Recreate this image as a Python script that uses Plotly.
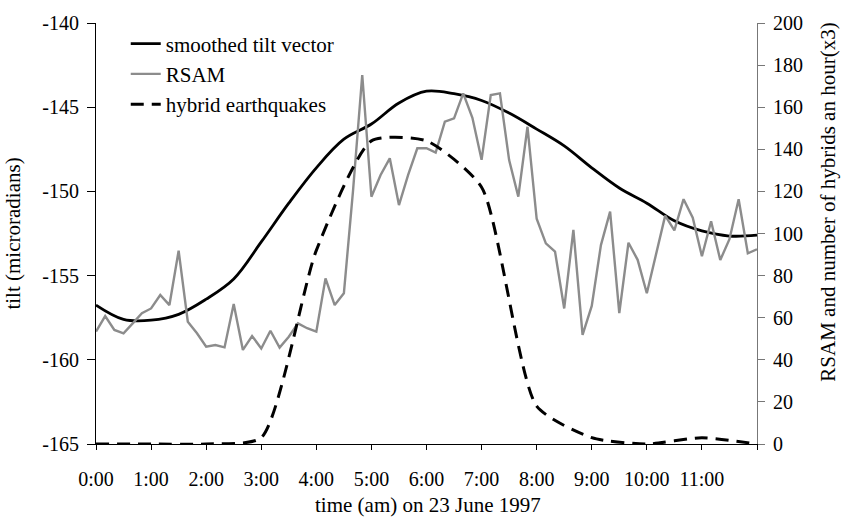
import plotly.graph_objects as go

# ---------------- data ----------------
tilt_hours = [0, 0.5, 1, 1.5, 2, 2.5, 3, 3.5, 4, 4.5, 5, 5.5, 6, 6.5, 7, 7.5, 8, 8.5,
              9, 9.5, 10, 10.5, 11, 11.5, 12]
tilt_values = [-156.75, -157.6, -157.65, -157.3, -156.4, -155.2, -153.0, -150.7, -148.6,
               -146.9, -146.0, -144.75, -144.05, -144.2, -144.6, -145.35, -146.3, -147.3,
               -148.6, -149.8, -150.7, -151.75, -152.35, -152.65, -152.6]

rsam_values = [53.4, 60.8, 54.2, 52.6, 57.3, 62.1, 64.4, 70.8, 66.0, 91.8,
               58.1, 52.6, 46.2, 47.0, 45.9, 66.5, 44.7, 51.3, 45.4, 53.8,
               45.8, 51.0, 57.3, 55.0, 53.4, 78.7, 66.0, 71.6, 120.5, 175.3,
               117.5, 127.8, 135.7, 113.5, 127.8, 140.5, 140.5, 138.4, 153.1, 154.7,
               166.6, 155.0, 135.0, 165.8, 166.6, 134.9, 117.5, 150.7, 107.0, 95.3,
               91.4, 64.4, 101.7, 51.8, 65.6, 94.5, 110.4, 62.2, 95.6, 87.5,
               71.6, 89.5, 108.5, 101.5, 116.3, 107.5, 89.2, 105.8, 87.4, 97.3,
               116.3, 90.6, 92.5]
rsam_step_minutes = 10
rsam_hours = [i * rsam_step_minutes / 60 for i in range(len(rsam_values))]

hybrid_hours = [0, 1, 2, 3, 4, 5, 6, 7, 8, 9, 10, 11, 12]
hybrid_values = [0, 0, 0, 3, 92, 144, 144, 122, 18, 3, 0, 3, 0]

tick_hours = [0, 1, 2, 3, 4, 5, 6, 7, 8, 9, 10, 11, 12]
tick_labels = ["0:00", "1:00", "2:00", "3:00", "4:00", "5:00", "6:00", "7:00",
               "8:00", "9:00", "10:00", "11:00", ""]
tilt_ticks = [-165, -160, -155, -150, -145, -140]
tilt_tick_labels = ["-165", "-160", "-155", "-150", "-145", "-140"]

FONT = "Liberation Serif"

fig = go.Figure()
fig.add_trace(go.Scatter(x=tilt_hours, y=tilt_values, name="smoothed tilt vector",
                         mode="lines", line=dict(color="black", width=2.8, shape="spline"),
                         legendgroup="a", yaxis="y"))
fig.add_trace(go.Scatter(x=rsam_hours, y=rsam_values, name="RSAM",
                         mode="lines", line=dict(color="#8c8c8c", width=2.4),
                         legendgroup="b", yaxis="y2"))
fig.add_trace(go.Scatter(x=hybrid_hours, y=hybrid_values, name="hybrid earthquakes",
                         mode="lines", line=dict(color="black", width=3, dash="13px,8px",
                                                 shape="spline", smoothing=0.6),
                         legendgroup="c", yaxis="y2"))

fig.update_layout(
    width=862, height=524, autosize=False,
    margin=dict(l=96, r=105, t=23, b=80),
    paper_bgcolor="white", plot_bgcolor="white",
    font=dict(family=FONT, size=20, color="black"),
    showlegend=True,
    legend=dict(x=0.045, y=0.999, xanchor="left", yanchor="top",
                bgcolor="rgba(0,0,0,0)", font=dict(family=FONT, size=21),
                tracegroupgap=0),
    xaxis=dict(range=[0, 12], tickvals=tick_hours, ticktext=tick_labels,
               ticks="outside", ticklen=5, tickcolor="black", showline=True,
               linecolor="black", linewidth=1, showgrid=False, zeroline=False,
               tickfont=dict(family=FONT, size=20), ticklabelstandoff=12),
    xaxis2=dict(range=[0, 12], tickvals=tick_hours, overlaying="x", side="bottom",
                anchor="y", ticks="inside", ticklen=5, tickcolor="black",
                showticklabels=False, showline=False, showgrid=False, zeroline=False),
    yaxis=dict(range=[-165, -140], tickvals=tilt_ticks, ticktext=tilt_tick_labels,
               ticks="outside", ticklen=8,
               tickcolor="black", showline=True, linecolor="black", linewidth=1,
               showgrid=False, zeroline=False, tickfont=dict(family=FONT, size=20),
               ticklabelstandoff=4),
    yaxis2=dict(range=[0, 200], dtick=20, overlaying="y", side="right", anchor="x",
                ticks="outside", ticklen=7, tickcolor="#777777", showline=True,
                linecolor="#777777", linewidth=1, showgrid=False, zeroline=False,
                tickfont=dict(family=FONT, size=20), ticklabelstandoff=4),
    annotations=[
        dict(text="tilt (microradians)", textangle=-90, xref="paper", yref="paper",
             x=-0.127, y=0.5, xanchor="center", yanchor="middle", showarrow=False,
             font=dict(family=FONT, size=21)),
        dict(text="RSAM and number of hybrids an hour(x3)", textangle=-90,
             xref="paper", yref="paper", x=1.107, y=0.575, xanchor="center",
             yanchor="middle", showarrow=False, font=dict(family=FONT, size=21)),
        dict(text="time (am) on 23 June 1997", xref="paper", yref="paper",
             x=0.502, y=-0.145, xanchor="center", yanchor="middle", showarrow=False,
             font=dict(family=FONT, size=21)),
    ],
)

fig.write_html("out.html")
